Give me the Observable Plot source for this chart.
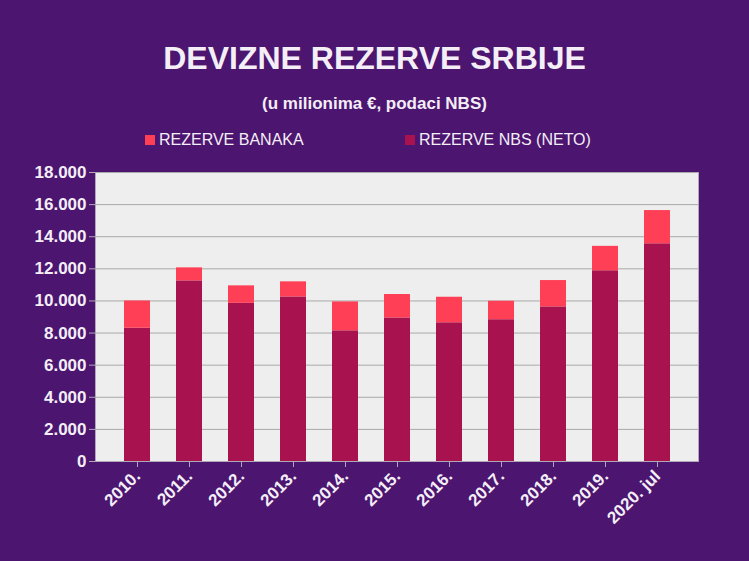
<!DOCTYPE html>
<html><head><meta charset="utf-8">
<script src="https://cdn.jsdelivr.net/npm/d3@7"></script>
<script src="https://cdn.jsdelivr.net/npm/@observablehq/plot@0.6"></script>
<style>
body{margin:0;background:#4b1570;width:749px;height:561px;overflow:hidden;font-family:"Liberation Sans",Arial,sans-serif;color:#fff}
h1{margin:0;position:absolute;top:40px;width:749px;text-align:center;font-size:32px;font-weight:bold;color:#f4eef6}
h2{margin:0;position:absolute;top:94px;width:749px;text-align:center;font-size:17px;font-weight:bold;color:#f4eef6}
.lg{position:absolute;top:131px;font-size:16px;color:#f4eef6}
.lg span{display:inline-block;width:10px;height:10px;margin-right:4px}
#c{position:absolute;top:160px;left:0}
</style></head><body>
<h1>DEVIZNE REZERVE SRBIJE</h1>
<h2>(u milionima €, podaci NBS)</h2>
<div class="lg" style="left:145px"><span style="background:#ff3f55"></span>REZERVE BANAKA</div>
<div class="lg" style="left:405px"><span style="background:#a8124f"></span>REZERVE NBS (NETO)</div>
<div id="c"></div>
<script>
const years = ["2010.","2011.","2012.","2013.","2014.","2015.","2016.","2017.","2018.","2019.","2020. jul"];
const nbs = [8300,11250,9850,10250,8140,8940,8640,8830,9630,11880,13560];
const total = [10000,12060,10940,11190,9940,10400,10230,9980,11270,13400,15630];
const banks = total.map((t,i)=>t-nbs[i]);
const series = ["REZERVE NBS (NETO)","REZERVE BANAKA"];
const colors = ["#a8124f","#ff3f55"];
const data = years.flatMap((y,i)=>[{year:y,s:series[0],v:nbs[i]},{year:y,s:series[1],v:banks[i]}]);
const fmt = d => d3.format(",")(d).replace(/,/g,".");
const chart = Plot.plot({
  width:749,height:401,marginTop:12,marginBottom:100,marginLeft:95,marginRight:51,
  style:{background:"transparent",color:"#f4eef6",fontSize:"17px",fontWeight:"bold",fontFamily:"Liberation Sans, Arial, sans-serif"},
  x:{domain:years,label:null,padding:0.5,tickRotate:-45,tickSize:6},
  y:{domain:[0,18000],ticks:d3.range(0,18001,2000),tickFormat:fmt,label:null,tickSize:6},
  color:{domain:series,range:colors},
  marks:[
    Plot.frame({fill:"#eeeeee",stroke:"#b0a8b8"}),
    Plot.gridY(d3.range(2000,18001,2000),{stroke:"#a9a9a9",strokeOpacity:1}),
    Plot.barY(data,Plot.stackY({x:"year",y:"v",fill:"s",order:series})),
    Plot.axisY({ticks:d3.range(0,18001,2000),tickFormat:fmt,stroke:"#b0a8b8",tickSize:6}),
    Plot.axisX({tickRotate:-45,stroke:"#b0a8b8",tickSize:6})
  ]
});
document.getElementById("c").append(chart);
</script></body></html>
